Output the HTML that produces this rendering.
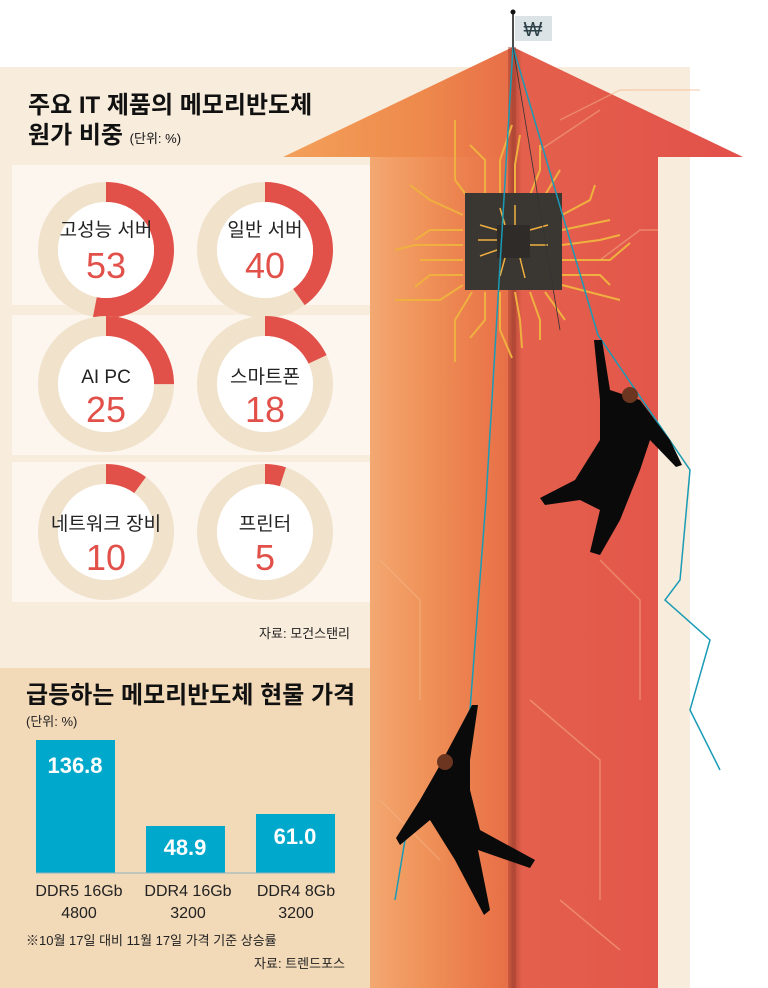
<!DOCTYPE html>
<html><head><meta charset="utf-8"><style>
body{margin:0;background:#fff;}
svg{display:block;font-family:"Liberation Sans","Noto Sans CJK KR",sans-serif;}
</style></head><body>
<svg width="768" height="988" viewBox="0 0 768 988" xmlns="http://www.w3.org/2000/svg">
<defs>
<linearGradient id="ar" x1="0" x2="1" y1="0" y2="0">
<stop offset="0" stop-color="#f3a05a"/><stop offset="0.3" stop-color="#ee8a4c"/><stop offset="0.49" stop-color="#e86f48"/><stop offset="0.5" stop-color="#b84a38"/><stop offset="0.52" stop-color="#e4604c"/><stop offset="1" stop-color="#e2504a"/>
</linearGradient>
<linearGradient id="sh" x1="0" x2="1"><stop offset="0" stop-color="#f7c49a"/><stop offset="1" stop-color="#ee8450" stop-opacity="0"/></linearGradient>
</defs>
<rect x="0" y="67" width="690" height="921" fill="#f8ecdc"/>
<polygon points="513,47 743,157 658,157 658,988 370,988 370,157 283,157" fill="url(#ar)"/>
<rect x="370" y="157" width="140" height="831" fill="url(#sh)" opacity="0.45"/>
<rect x="508" y="47" width="8" height="941" fill="#a84434" opacity="0.5"/>
<g stroke="#f6b58a" stroke-width="1.5" fill="none" opacity="0.5">
<path d="M560,120 L620,90 L700,90"/><path d="M540,150 L600,110"/><path d="M600,260 L640,230 L658,230"/>
<path d="M600,560 L640,600 L640,700"/><path d="M380,560 L420,600 L420,700"/><path d="M530,700 L600,760 L600,900"/>
<path d="M380,800 L440,860"/><path d="M560,900 L620,950"/>
</g>
<g stroke="#f0b040" stroke-width="2" fill="none">
<path d="M470,200 L455,180 L455,120"/><path d="M485,195 L485,160 L470,145"/><path d="M500,195 L500,160 L512,125"/><path d="M515,195 L515,165 L520,135"/><path d="M530,195 L540,170 L540,145"/><path d="M545,195 L560,170"/>
<path d="M463,215 L430,200 L410,185"/><path d="M463,230 L430,230 L415,240"/><path d="M463,245 L415,245 L395,250"/><path d="M463,260 L420,260"/><path d="M463,275 L430,275 L415,287"/><path d="M463,285 L440,300 L395,300"/>
<path d="M562,215 L590,200 L595,185"/><path d="M562,230 L610,220"/><path d="M562,245 L600,240 L620,235"/><path d="M562,260 L610,260 L630,243"/><path d="M562,275 L600,275 L610,285"/><path d="M562,285 L620,300"/>
<path d="M472,292 L455,320 L455,362"/><path d="M485,292 L485,320 L470,338"/><path d="M500,292 L500,330 L512,358"/><path d="M515,292 L520,320 L522,348"/><path d="M530,292 L540,320 L540,340"/><path d="M545,292 L565,320"/>
</g>
<rect x="465" y="193" width="97" height="97" fill="#3a3632"/>
<rect x="497" y="225" width="33" height="33" fill="#2e2b28"/>
<g stroke="#f0b040" stroke-width="1.5" fill="none"><path d="M497,230 L480,225"/><path d="M497,240 L478,240"/><path d="M497,250 L480,256"/><path d="M530,230 L548,225"/><path d="M530,245 L548,245"/><path d="M505,225 L500,208"/><path d="M515,225 L515,205"/><path d="M505,258 L500,276"/><path d="M520,258 L525,278"/></g>
<g stroke="#1a9bb5" stroke-width="1.5" fill="none">
<path d="M513,47 L598,335 L690,470 L680,580 L665,600 L710,640 L690,710 L720,770"/>
<path d="M513,47 L486,500 L470,710 L405,840 L395,900"/>
</g>
<path d="M513,47 L560,330" stroke="#333" stroke-width="0.8"/>
<line x1="513" y1="12" x2="513" y2="47" stroke="#111" stroke-width="1.5"/>
<circle cx="513" cy="12" r="2.5" fill="#111"/>
<rect x="515" y="16" width="37" height="25" fill="#dce3e6"/>
<text x="533" y="36" font-size="20" text-anchor="middle" fill="#2c4048">₩</text>
<g fill="#0a0a0a">
<path d="M594,340 L602,340 L610,390 L640,400 L670,440 L682,465 L676,467 L650,440 L640,470 L620,520 L600,555 L590,552 L600,510 L580,500 L545,505 L540,498 L575,480 L600,440 L600,400 Z"/>
<circle cx="630" cy="395" r="8" fill="#6b3520"/>
<path d="M472,705 L478,705 L470,760 L470,790 L480,830 L535,860 L530,868 L478,850 L490,910 L484,915 L455,860 L430,820 L400,845 L396,838 L420,800 L440,765 Z"/>
<circle cx="445" cy="762" r="8" fill="#6b3520"/>
</g>
<rect x="0" y="157" width="370" height="510" fill="#f8ecdc"/>
<rect x="12" y="165" width="358" height="140" fill="#fcf6ee"/>
<rect x="12" y="315" width="358" height="140" fill="#fcf6ee"/>
<rect x="12" y="462" width="358" height="140" fill="#fcf6ee"/>
<text x="28" y="113" font-size="24" font-weight="bold" fill="#111">주요 IT 제품의 메모리반도체</text>
<text x="28" y="143" font-size="24" font-weight="bold" fill="#111">원가 비중 <tspan font-size="13" font-weight="normal">(단위: %)</tspan></text>
<g transform="translate(106,250)">
<circle r="58" fill="none" stroke="#f1e2cc" stroke-width="20"/>
<circle r="58" fill="none" stroke="#e2504a" stroke-width="20" stroke-dasharray="193.2 364.4" transform="rotate(-90)"/>
<circle r="48" fill="#fff"/>
<text y="-14" font-size="19" text-anchor="middle" fill="#222">고성능 서버</text>
<text y="28" font-size="36" text-anchor="middle" fill="#e2504a">53</text></g>
<g transform="translate(265,250)">
<circle r="58" fill="none" stroke="#f1e2cc" stroke-width="20"/>
<circle r="58" fill="none" stroke="#e2504a" stroke-width="20" stroke-dasharray="145.8 364.4" transform="rotate(-90)"/>
<circle r="48" fill="#fff"/>
<text y="-14" font-size="19" text-anchor="middle" fill="#222">일반 서버</text>
<text y="28" font-size="36" text-anchor="middle" fill="#e2504a">40</text></g>
<g transform="translate(106,384)">
<circle r="58" fill="none" stroke="#f1e2cc" stroke-width="20"/>
<circle r="58" fill="none" stroke="#e2504a" stroke-width="20" stroke-dasharray="91.1 364.4" transform="rotate(-90)"/>
<circle r="48" fill="#fff"/>
<text y="-1" font-size="19" text-anchor="middle" fill="#222">AI PC</text>
<text y="38" font-size="36" text-anchor="middle" fill="#e2504a">25</text></g>
<g transform="translate(265,384)">
<circle r="58" fill="none" stroke="#f1e2cc" stroke-width="20"/>
<circle r="58" fill="none" stroke="#e2504a" stroke-width="20" stroke-dasharray="65.6 364.4" transform="rotate(-90)"/>
<circle r="48" fill="#fff"/>
<text y="-1" font-size="19" text-anchor="middle" fill="#222">스마트폰</text>
<text y="38" font-size="36" text-anchor="middle" fill="#e2504a">18</text></g>
<g transform="translate(106,532)">
<circle r="58" fill="none" stroke="#f1e2cc" stroke-width="20"/>
<circle r="58" fill="none" stroke="#e2504a" stroke-width="20" stroke-dasharray="36.4 364.4" transform="rotate(-90)"/>
<circle r="48" fill="#fff"/>
<text y="-2" font-size="19" text-anchor="middle" fill="#222">네트워크 장비</text>
<text y="38" font-size="36" text-anchor="middle" fill="#e2504a">10</text></g>
<g transform="translate(265,532)">
<circle r="58" fill="none" stroke="#f1e2cc" stroke-width="20"/>
<circle r="58" fill="none" stroke="#e2504a" stroke-width="20" stroke-dasharray="18.2 364.4" transform="rotate(-90)"/>
<circle r="48" fill="#fff"/>
<text y="-2" font-size="19" text-anchor="middle" fill="#222">프린터</text>
<text y="38" font-size="36" text-anchor="middle" fill="#e2504a">5</text></g>
<text x="350" y="638" font-size="13" text-anchor="end" fill="#222">자료: 모건스탠리</text>
<rect x="0" y="668" width="370" height="320" fill="#f2d9b8"/>
<text x="26" y="703" font-size="24" font-weight="bold" fill="#111">급등하는 메모리반도체 현물 가격</text>
<text x="26" y="726" font-size="13" fill="#222">(단위: %)</text>
<rect x="36" y="740" width="79" height="133" fill="#00a8cc"/>
<rect x="146" y="826" width="79" height="47" fill="#00a8cc"/>
<rect x="256" y="814" width="79" height="59" fill="#00a8cc"/>
<line x1="36" y1="873" x2="335" y2="873" stroke="#8fb3bf" stroke-width="1"/>
<g font-size="22" font-weight="bold" fill="#fff" text-anchor="middle">
<text x="75" y="773">136.8</text><text x="185" y="855">48.9</text><text x="295" y="844">61.0</text></g>
<g font-size="16" fill="#222" text-anchor="middle">
<text x="79" y="896">DDR5 16Gb</text><text x="79" y="918">4800</text>
<text x="188" y="896">DDR4 16Gb</text><text x="188" y="918">3200</text>
<text x="296" y="896">DDR4 8Gb</text><text x="296" y="918">3200</text></g>
<text x="26" y="945" font-size="13" fill="#222">※10월 17일 대비 11월 17일 가격 기준 상승률</text>
<text x="345" y="968" font-size="13" text-anchor="end" fill="#222">자료: 트렌드포스</text>
</svg>
</body></html>
